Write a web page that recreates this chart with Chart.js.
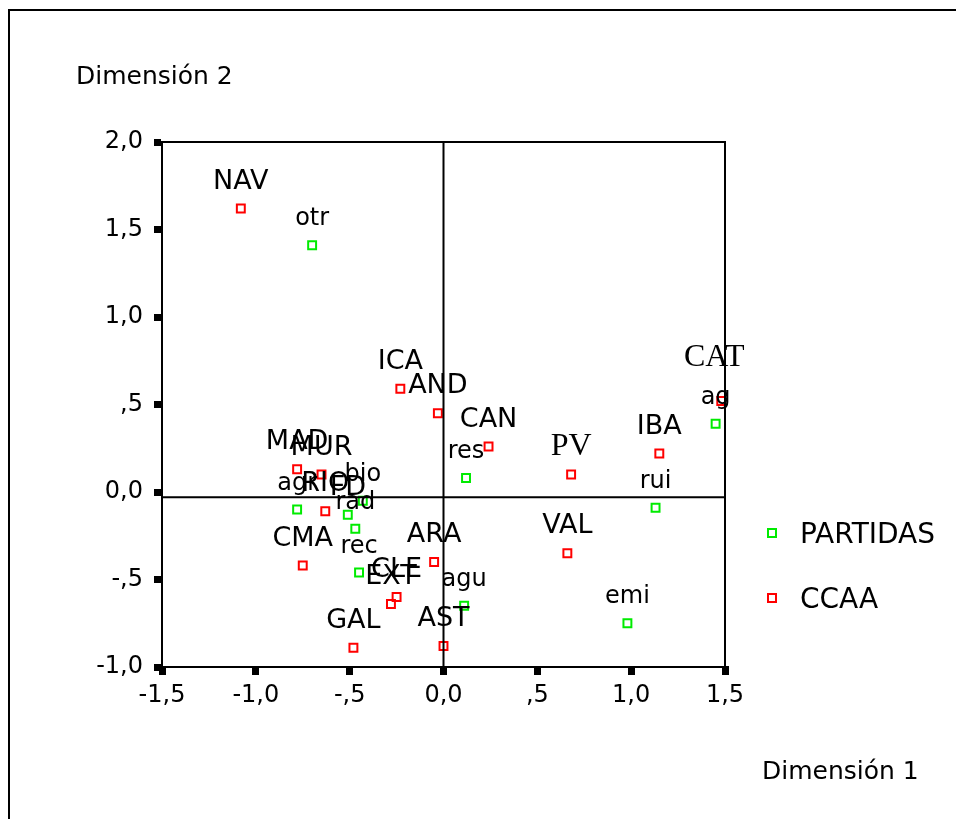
<!DOCTYPE html>
<html lang="es">
<head>
<meta charset="UTF-8">
<title>Dimensión 1 / Dimensión 2</title>
<script src="https://cdn.jsdelivr.net/npm/chart.js"></script>
<style>
  html, body { margin: 0; padding: 0; background: #fff; }
  #wrap { width: 956px; height: 819px; position: relative; }
</style>
</head>
<body>
<div id="wrap"><canvas id="chart" width="956" height="819"></canvas></div>
<script>
// PARTIDAS (green)
const partidasLabels = ['otr', 'res', 'ag', 'rui', 'emi', 'agu', 'agr', 'FD', 'bio', 'rad', 'rec'];
const partidasX = [-0.70, 0.12, 1.45, 1.13, 0.98, 0.11, -0.78, -0.51, -0.43, -0.47, -0.45];
const partidasY = [1.41, 0.08, 0.39, -0.09, -0.75, -0.65, -0.10, -0.13, -0.05, -0.21, -0.46];

// CCAA (red)
const ccaaLabels = ['NAV', 'ICA', 'AND', 'CAN', 'PV', 'IBA', 'CAT', 'VAL', 'MAD', 'MUR', 'RIO', 'CMA', 'ARA', 'CLE', 'EXT', 'GAL', 'AST'];
const ccaaX = [-1.08, -0.23, -0.03, 0.24, 0.68, 1.15, 1.48, 0.66, -0.78, -0.65, -0.63, -0.75, -0.05, -0.25, -0.28, -0.48, 0.00];
const ccaaY = [1.62, 0.59, 0.45, 0.26, 0.10, 0.22, 0.52, -0.35, 0.13, 0.10, -0.11, -0.42, -0.40, -0.60, -0.64, -0.89, -0.88];

const xTicks = [-1.5, -1.0, -0.5, 0.0, 0.5, 1.0, 1.5];
const yTicks = [-1.0, -0.5, 0.0, 0.5, 1.0, 1.5, 2.0];
const refX = 0.0;
const refY = -0.03;

const GREEN = 'rgb(0,235,0)';
const RED = 'rgb(255,0,0)';

// spanish style: "1,5", ",5", "-,5"
function fmt(v) {
  let s = Math.abs(v).toFixed(1).replace('.', ',');
  if (Math.abs(v) > 0 && Math.abs(v) < 1) s = s.slice(1);
  return (v < 0 ? '-' : '') + s;
}

function toPoints(xs, ys) {
  return xs.map((x, i) => ({ x: x, y: ys[i] }));
}

const serifLabels = ['PV', 'CAT'];
const labelNudge = { CAT: [-7, -15] };

const decorPlugin = {
  id: 'decor',
  beforeDraw(chart) {
    const ctx = chart.ctx;
    ctx.save();
    ctx.fillStyle = '#fff';
    ctx.fillRect(0, 0, chart.width, chart.height);
    // outer frame
    ctx.strokeStyle = '#000';
    ctx.lineWidth = 2;
    ctx.beginPath();
    ctx.moveTo(9, chart.height);
    ctx.lineTo(9, 10);
    ctx.lineTo(chart.width, 10);
    ctx.stroke();
    ctx.restore();
  },
  afterDatasetsDraw(chart) {
    const ctx = chart.ctx;
    const a = chart.chartArea;
    const xs = chart.scales.x, ys = chart.scales.y;
    ctx.save();
    ctx.strokeStyle = '#000';
    ctx.lineWidth = 2;
    // top / right frame
    ctx.beginPath();
    ctx.moveTo(a.left, a.top);
    ctx.lineTo(a.right, a.top);
    ctx.lineTo(a.right, a.bottom);
    ctx.stroke();
    // reference lines
    const px = xs.getPixelForValue(refX);
    const py = ys.getPixelForValue(refY);
    ctx.beginPath();
    ctx.moveTo(px, a.top);
    ctx.lineTo(px, a.bottom);
    ctx.moveTo(a.left, py);
    ctx.lineTo(a.right, py);
    ctx.stroke();

    // point labels
    ctx.fillStyle = '#000';
    ctx.textAlign = 'center';
    ctx.textBaseline = 'alphabetic';
    chart.data.datasets.forEach((ds, di) => {
      const meta = chart.getDatasetMeta(di);
      meta.data.forEach((el, i) => {
        const lab = ds.pointLabels[i];
        const n = labelNudge[lab] || [0, 0];
        if (serifLabels.includes(lab)) ctx.font = '32px "Liberation Serif"';
        else if (lab === lab.toUpperCase()) ctx.font = '27px "DejaVu Sans"';
        else ctx.font = '24px "DejaVu Sans"';
        ctx.fillText(lab, el.x + n[0], el.y - 20 + n[1]);
      });
    });

    // axis titles
    ctx.textAlign = 'left';
    ctx.font = '25px "DejaVu Sans"';
    ctx.fillText('Dimensión 2', 76, 84);
    ctx.fillText('Dimensión 1', 762, 779);

    // legend
    const items = [['PARTIDAS', GREEN, 533], ['CCAA', RED, 598]];
    ctx.font = '28px "DejaVu Sans"';
    items.forEach(([t, c, y]) => {
      ctx.strokeStyle = c;
      ctx.lineWidth = 2;
      ctx.strokeRect(768, y - 4, 8, 8);
      ctx.fillStyle = '#000';
      ctx.fillText(t, 800, y + 10);
    });
    ctx.restore();
  }
};

const tickFont = { family: 'DejaVu Sans', size: 24 };

new Chart(document.getElementById('chart'), {
  type: 'scatter',
  data: {
    datasets: [
      {
        label: 'PARTIDAS',
        data: toPoints(partidasX, partidasY),
        pointLabels: partidasLabels,
        pointStyle: 'rect',
        radius: 5.6,
        borderWidth: 2,
        borderColor: GREEN,
        backgroundColor: 'rgba(255,255,255,0)'
      },
      {
        label: 'CCAA',
        data: toPoints(ccaaX, ccaaY),
        pointLabels: ccaaLabels,
        pointStyle: 'rect',
        radius: 5.6,
        borderWidth: 2,
        borderColor: RED,
        backgroundColor: 'rgba(255,255,255,0)'
      }
    ]
  },
  options: {
    responsive: false,
    animation: false,
    layout: { padding: { left: 0, top: 142, right: 231, bottom: 0 } },
    plugins: { legend: { display: false }, tooltip: { enabled: false } },
    scales: {
      x: {
        type: 'linear',
        min: -1.5,
        max: 1.5,
        afterBuildTicks: s => { s.ticks = xTicks.map(v => ({ value: v })); },
        afterFit: s => { s.height = 152; },
        border: { display: true, color: '#000', width: 2 },
        grid: { drawOnChartArea: false, drawTicks: true, tickLength: 8, lineWidth: 7, color: '#000' },
        ticks: { color: '#000', font: tickFont, padding: 6, maxRotation: 0, callback: v => fmt(v) }
      },
      y: {
        type: 'linear',
        min: -1,
        max: 2,
        afterBuildTicks: s => { s.ticks = yTicks.map(v => ({ value: v })); },
        afterFit: s => { s.width = 162; },
        border: { display: true, color: '#000', width: 2 },
        grid: { drawOnChartArea: false, drawTicks: true, tickLength: 8, lineWidth: 7, color: '#000' },
        ticks: { color: '#000', font: tickFont, padding: 11, callback: v => fmt(v) }
      }
    }
  },
  plugins: [decorPlugin]
});
</script>
</body>
</html>
